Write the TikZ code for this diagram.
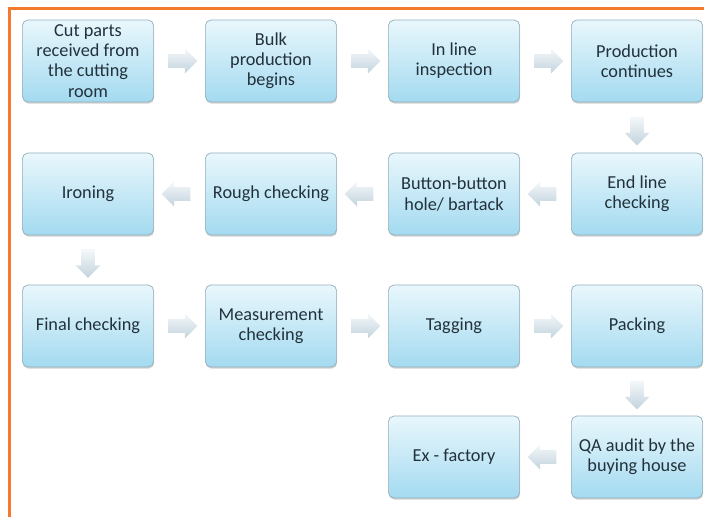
\documentclass[tikz,border=0pt]{standalone}
\usepackage{fontspec}
\setmainfont{Carlito}
\usetikzlibrary{positioning,shapes.arrows,shadows,calc}
\definecolor{naranja}{HTML}{F37A2E}
\definecolor{letra}{HTML}{22313B}
\definecolor{borde}{HTML}{94AEBC}
\definecolor{cieloA}{HTML}{E9F7FC}
\definecolor{cieloB}{HTML}{A3DAF0}
\definecolor{grisA}{HTML}{F4F8FA}
\definecolor{grisB}{HTML}{C2D3DD}
\tikzset{
  paso/.style={draw=borde, line width=0.5pt, rounded corners=4pt, top color=cieloA, bottom color=cieloB,
    minimum width=3.28cm, minimum height=2.05cm, inner sep=0.5pt, align=center, text=letra,
    font=\fontsize{13}{14.3}\selectfont, drop shadow={shadow xshift=0.4pt, shadow yshift=-1.2pt, opacity=0.35}},
  flecha/.style={single arrow, draw=none, top color=grisA, bottom color=grisB,
    minimum height=0.72cm, minimum width=0.62cm, inner sep=0.16cm, single arrow head extend=0.13cm},
}

\begin{document}
\begin{tikzpicture}[x=0.025cm, y=-0.025cm]
  \useasboundingbox (0,0) rectangle (704,517);
  % marco
  \draw[naranja, line width=2.2pt] (9.5,517) -- (9.5,8.5) -- (704,8.5);

  % fila 1
  \node[paso] (corte) at (88,61) {Cut parts\\received from\\the cutting\\room};
  \node[paso] (bulk) at (271,61) {Bulk\\production\\begins};
  \node[paso] (inline) at (454,61) {In line\\inspection};
  \node[paso] (continua) at (637,61) {Production\\continues};
  % fila 2
  \node[paso] (endline) at (637,194) {End line\\checking};
  \node[paso] (boton) at (454,194) {Button-button\\hole/ bartack};
  \node[paso] (rough) at (271,194) {Rough checking};
  \node[paso] (plancha) at (88,194) {Ironing};
  % fila 3
  \node[paso] (final) at (88,326) {Final checking};
  \node[paso] (medida) at (271,326) {Measurement\\checking};
  \node[paso] (tag) at (454,326) {Tagging};
  \node[paso] (pack) at (637,326) {Packing};
  % fila 4
  \node[paso] (qa) at (637,457) {QA audit by the\\buying house};
  \node[paso] (exf) at (454,457) {Ex - factory};

  % flechas
  \node[flecha] (f1) at ($(corte.east)!0.5!(bulk.west)$) {};
  \node[flecha] (f2) at ($(bulk.east)!0.5!(inline.west)$) {};
  \node[flecha] (f3) at ($(inline.east)!0.5!(continua.west)$) {};
  \node[flecha, shape border rotate=270] (f4) at ($(continua.south)!0.5!(endline.north)$) {};
  \node[flecha, shape border rotate=180] (f5) at ($(endline.west)!0.5!(boton.east)$) {};
  \node[flecha, shape border rotate=180] (f6) at ($(boton.west)!0.5!(rough.east)$) {};
  \node[flecha, shape border rotate=180] (f7) at ($(rough.west)!0.5!(plancha.east)$) {};
  \node[flecha, shape border rotate=270] (f8) at ($(plancha.south)!0.5!(final.north)$) {};
  \node[flecha] (f9) at ($(final.east)!0.5!(medida.west)$) {};
  \node[flecha] (f10) at ($(medida.east)!0.5!(tag.west)$) {};
  \node[flecha] (f11) at ($(tag.east)!0.5!(pack.west)$) {};
  \node[flecha, shape border rotate=270] (f12) at ($(pack.south)!0.5!(qa.north)$) {};
  \node[flecha, shape border rotate=180] (f13) at ($(qa.west)!0.5!(exf.east)$) {};
\end{tikzpicture}
\end{document}
